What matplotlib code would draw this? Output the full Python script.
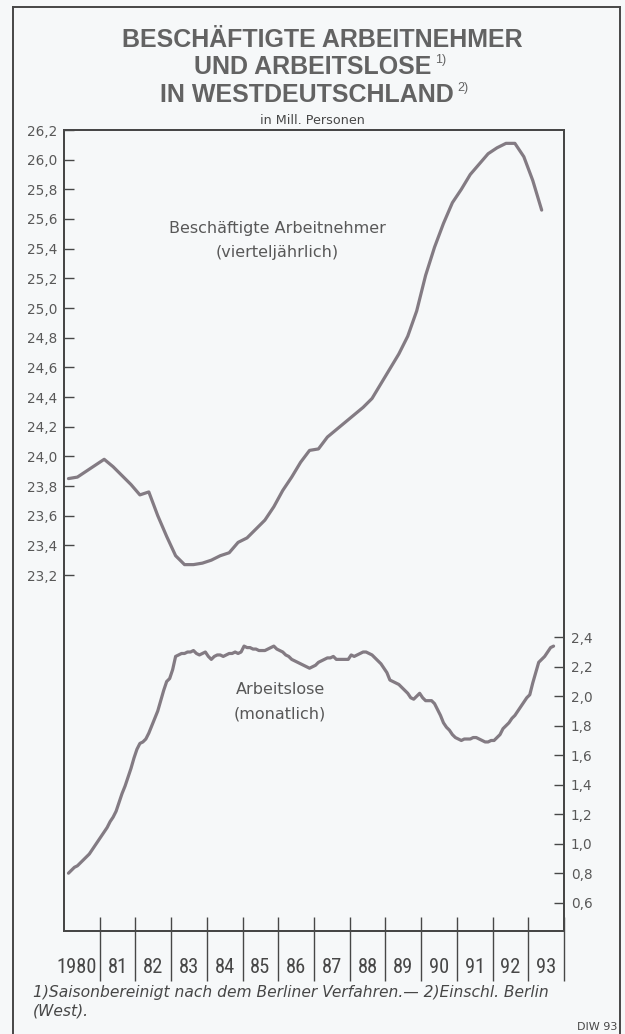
import numpy as np
import matplotlib
matplotlib.use("Agg")
import matplotlib.pyplot as plt
from matplotlib import font_manager as fm
from matplotlib.font_manager import FontProperties
from matplotlib.lines import Line2D

# Beschaeftigte Arbeitnehmer, vierteljaehrlich, Mill. (1980 Q1 .. 1993 Q2)
employed = [
    23.85, 23.86, 23.90, 23.94,   # 1980
    23.98, 23.93, 23.87, 23.81,   # 1981
    23.74, 23.76, 23.60, 23.46,   # 1982
    23.33, 23.27, 23.27, 23.28,   # 1983
    23.30, 23.33, 23.35, 23.42,   # 1984
    23.45, 23.51, 23.57, 23.66,   # 1985
    23.77, 23.86, 23.96, 24.04,   # 1986
    24.05, 24.13, 24.18, 24.23,   # 1987
    24.28, 24.33, 24.39, 24.49,   # 1988
    24.59, 24.69, 24.81, 24.98,   # 1989
    25.22, 25.41, 25.57, 25.71,   # 1990
    25.80, 25.90, 25.97, 26.04,   # 1991
    26.08, 26.11, 26.11, 26.02,   # 1992
    25.86, 25.66,                 # 1993
]

# Arbeitslose, monatlich, Mill. (Feb 1980 .. Sep 1993)
unemployed = [
    0.80, 0.82, 0.84, 0.85, 0.87, 0.89, 0.91, 0.93, 0.96, 0.99, 1.02,        # 1980
    1.05, 1.08, 1.11, 1.15, 1.18, 1.22, 1.28, 1.34, 1.39, 1.45, 1.51, 1.58,  # 1981
    1.64, 1.68, 1.69, 1.71, 1.75, 1.80, 1.85, 1.90, 1.97, 2.04, 2.10, 2.12,  # 1982
    2.18, 2.27, 2.28, 2.29, 2.29, 2.30, 2.30, 2.31, 2.29, 2.28, 2.29, 2.30,  # 1983
    2.27, 2.25, 2.27, 2.28, 2.28, 2.27, 2.28, 2.29, 2.29, 2.30, 2.29, 2.30,  # 1984
    2.34, 2.33, 2.33, 2.32, 2.32, 2.31, 2.31, 2.31, 2.32, 2.33, 2.34, 2.32,  # 1985
    2.31, 2.30, 2.28, 2.27, 2.25, 2.24, 2.23, 2.22, 2.21, 2.20, 2.19, 2.20,  # 1986
    2.21, 2.23, 2.24, 2.25, 2.26, 2.26, 2.27, 2.25, 2.25, 2.25, 2.25, 2.25,  # 1987
    2.28, 2.27, 2.28, 2.29, 2.30, 2.30, 2.29, 2.28, 2.26, 2.24, 2.22, 2.19,  # 1988
    2.16, 2.11, 2.10, 2.09, 2.08, 2.06, 2.04, 2.02, 1.99, 1.98, 2.00, 2.02,  # 1989
    1.99, 1.97, 1.97, 1.97, 1.95, 1.91, 1.87, 1.82, 1.79, 1.77, 1.74, 1.72,  # 1990
    1.71, 1.70, 1.71, 1.71, 1.71, 1.72, 1.72, 1.71, 1.70, 1.69, 1.69, 1.70,  # 1991
    1.70, 1.72, 1.74, 1.78, 1.80, 1.82, 1.85, 1.87, 1.90, 1.93, 1.96, 1.99,  # 1992
    2.01, 2.09, 2.16, 2.23, 2.25, 2.27, 2.30, 2.33, 2.34,                    # 1993
]

year_labels = ["1980", "81", "82", "83", "84", "85", "86", "87", "88", "89",
               "90", "91", "92", "93"]
left_ticks = [23.2, 23.4, 23.6, 23.8, 24.0, 24.2, 24.4, 24.6, 24.8, 25.0,
              25.2, 25.4, 25.6, 25.8, 26.0, 26.2]
right_ticks = [0.6, 0.8, 1.0, 1.2, 1.4, 1.6, 1.8, 2.0, 2.2, 2.4]

bg = "#f6f8f9"
line_c = "#837b83"
ink = "#474747"
txt = "#585858"

W, H = 625, 1034
fig = plt.figure(figsize=(W / 100, H / 100), dpi=100, facecolor=bg)

ax = fig.add_axes([64 / W, 1 - 931 / H, 500 / W, 801 / H])
ax.set_facecolor(bg)
ax2 = ax.twinx()

xq = 1980 + (np.arange(len(employed)) + 0.5) / 4
xm = 1980 + (np.arange(len(unemployed)) + 1.5) / 12

ax.plot(xq, employed, color=line_c, lw=2.3, solid_joinstyle="round", solid_capstyle="round")
ax2.plot(xm, unemployed, color=line_c, lw=2.3, solid_joinstyle="round", solid_capstyle="round")

ax.set_xlim(1980, 1994)
ax.set_ylim(20.80, 26.20)
ax2.set_ylim(0.408, 5.84)

fmt = lambda v: ("%.1f" % v).replace(".", ",")
ax.set_yticks(left_ticks)
ax.set_yticklabels([fmt(v) for v in left_ticks])
ax2.set_yticks(right_ticks)
ax2.set_yticklabels([fmt(v) for v in right_ticks])
for a in (ax, ax2):
    a.tick_params(axis="y", direction="in", length=7, width=1, color=ink,
                  labelcolor=txt, labelsize=9.8, pad=5)

# year boundaries: long separators below the axis, short ticks inside
bounds = list(range(1981, 1995))
ax.set_xticks(bounds)
ax.set_xticklabels([])
ax.tick_params(axis="x", which="major", direction="out", length=36, width=1, color=ink)
ax2.xaxis.set_visible(True)
ax2.tick_params(axis="x", which="major", direction="in", length=10, width=1, color=ink,
                bottom=True, top=False, labelbottom=False, labeltop=False)

for a in (ax, ax2):
    for s in a.spines.values():
        s.set_color(ink)
        s.set_linewidth(1.4)

# year labels: narrowest font available, sized to fit the year cells
names = {f.name for f in fm.fontManager.ttflist}
narrow = [n for n in ("Liberation Sans Narrow", "Roboto Condensed", "Noto Sans Condensed",
                      "Open Sans Condensed", "DejaVu Sans Condensed") if n in names]
year_fp = FontProperties(family=narrow[0] if narrow else "DejaVu Sans", stretch="condensed")
renderer = fig.canvas.get_renderer()
probe = fig.text(0, 0, "1980", fontproperties=year_fp, size=10)
w = probe.get_window_extent(renderer).width
probe.remove()
year_size = min(18, 10 * 40 / w)

xt = ax.get_xaxis_transform()
for i, lab in enumerate(year_labels):
    if i == 0:
        ax.text(1980 + 0.92, -0.045, lab, transform=xt, ha="right", va="center",
                fontproperties=year_fp, size=year_size, color=ink, clip_on=False)
    else:
        ax.text(1980.5 + i, -0.045, lab, transform=xt, ha="center", va="center",
                fontproperties=year_fp, size=year_size, color=ink, clip_on=False)

# series labels
fig.text(277 / W, 1 - 228 / H, "Beschäftigte Arbeitnehmer", fontsize=11.5, color=txt,
         ha="center", va="center")
fig.text(277 / W, 1 - 253 / H, "(vierteljährlich)", fontsize=11.5, color=txt,
         ha="center", va="center")
fig.text(280 / W, 1 - 689 / H, "Arbeitslose", fontsize=11.5, color=txt, ha="center", va="center")
fig.text(280 / W, 1 - 714 / H, "(monatlich)", fontsize=11.5, color=txt, ha="center", va="center")

# title
tcol = "#636363"
tkw = dict(fontsize=18, fontweight="bold", color=tcol, ha="center", va="center",
           family=["Liberation Sans", "DejaVu Sans"])
fig.text(322 / W, 1 - 40 / H, "BESCHÄFTIGTE ARBEITNEHMER", **tkw)
t2 = fig.text(313 / W, 1 - 67 / H, "UND ARBEITSLOSE", **tkw)
t3 = fig.text(307 / W, 1 - 95 / H, "IN WESTDEUTSCHLAND", **tkw)
for t, s in ((t2, "1)"), (t3, "2)")):
    ax.annotate(s, xy=(1, 1), xycoords=t, xytext=(2.5, 1), textcoords="offset points",
                ha="left", va="top", fontsize=9, color=tcol,
                family=["Liberation Sans", "DejaVu Sans"], annotation_clip=False)

fig.text(312 / W, 1 - 120 / H, "in Mill. Personen", fontsize=9.2, color=ink,
         ha="center", va="center")

# footnotes
fig.text(33 / W, 1 - 993 / H, "1)Saisonbereinigt nach dem Berliner Verfahren.— 2)Einschl. Berlin",
         fontsize=11.2, style="italic", color=ink, ha="left", va="center")
fig.text(33 / W, 1 - 1011 / H, "(West).", fontsize=11.2, style="italic", color=ink,
         ha="left", va="center")
fig.text(617 / W, 1 - 1027 / H, "DIW 93", fontsize=8, color=ink, ha="right", va="center")

# outer frame (left, top, right)
fx0, fx1, fy1 = 13 / W, 620 / W, 1 - 7 / H
for xs, ys in (([fx0, fx0], [0, fy1]), ([fx0, fx1], [fy1, fy1]), ([fx1, fx1], [fy1, 0])):
    fig.add_artist(Line2D(xs, ys, transform=fig.transFigure, color=ink, lw=1.4))

fig.savefig("out.png", dpi=100, facecolor=bg)
